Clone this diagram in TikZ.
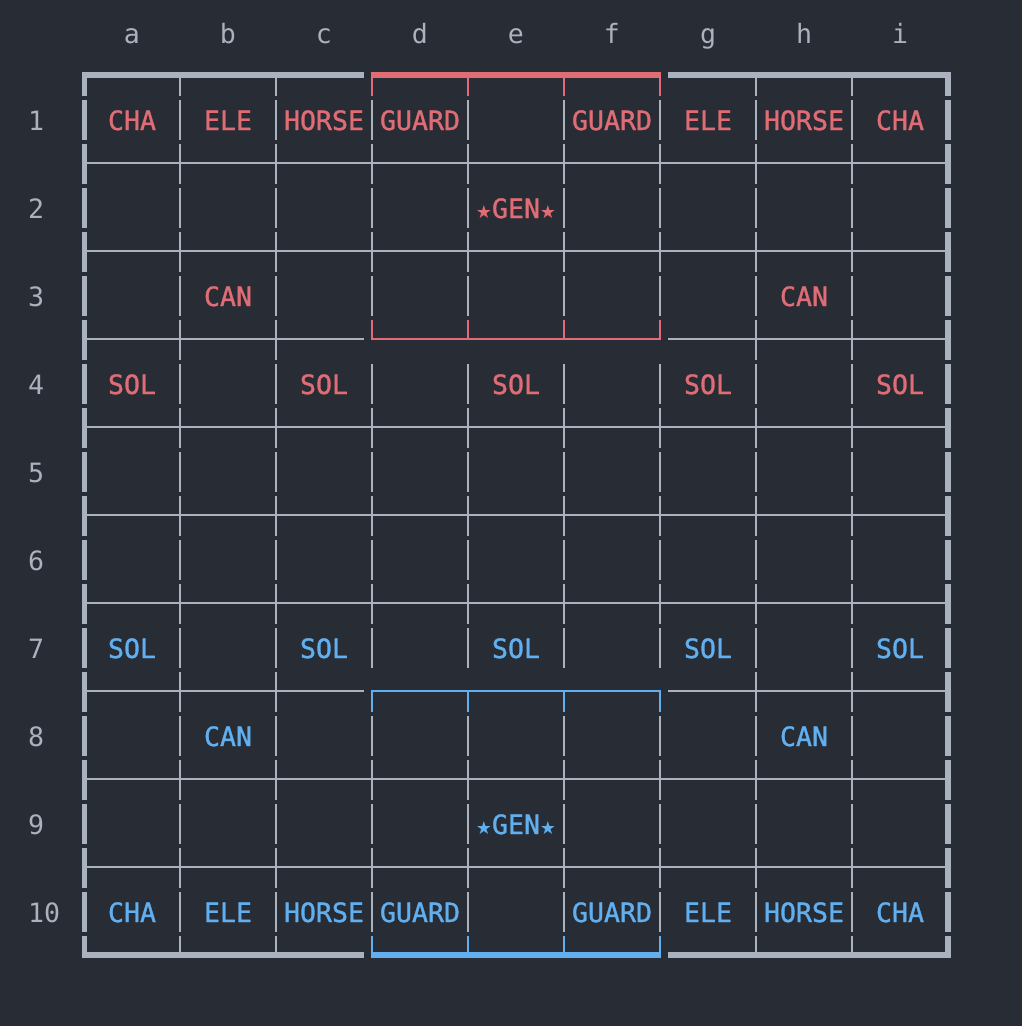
\documentclass[tikz,border=0pt]{standalone}
\usepackage{fontspec}
\newfontfamily\monof{DejaVu Sans Mono}
\newfontfamily\monofb{DejaVu Sans Mono}[FakeBold=1.2]
\newfontfamily\starf{DejaVu Sans}
\definecolor{bg}{HTML}{282C34}
\definecolor{gridc}{HTML}{ABB2BF}
\definecolor{redc}{HTML}{E06C75}
\definecolor{bluec}{HTML}{61AFEF}
\definecolor{labelc}{HTML}{ABB2BF}
\newcommand\stargl{\makebox[16pt]{\starf\fontsize{18}{20}\selectfont ★}}
\newcommand\genlabel{\stargl GEN\stargl}
\begin{document}
\begin{tikzpicture}[x=1pt,y=-1pt,
  thinln/.style={line width=2.6pt, line cap=butt},
  thickln/.style={line width=5.2pt, line cap=butt},
  piece/.style={font=\monofb\fontsize{26.6}{30}\selectfont, anchor=base, inner sep=0pt},
  redp/.style={piece, text=redc},
  bluep/.style={piece, text=bluec},
  lab/.style={font=\monof\fontsize{26.6}{30}\selectfont, text=labelc, inner sep=0pt}]
\fill[bg] (0,0) rectangle (1022,1026);
\useasboundingbox (0,0) rectangle (1022,1026);
% ---- vertical lines (terminal box characters with gaps) ----
% outer thick
\foreach \xx in {84.5,948} {
  \foreach \k in {0,...,20} {
    \pgfmathsetmacro\ya{ifthenelse(\k==0,75,98+44*(\k-1)+2)}
    \pgfmathsetmacro\yb{ifthenelse(\k==20,955,98+44*\k-2)}
    \draw[thickln,gridc] (\xx,\ya) -- (\xx,\yb);
  }
}
% inner, outside palace columns
\foreach \xx in {180,276,756,852} {
  \foreach \k in {0,...,20} {
    \pgfmathsetmacro\ya{ifthenelse(\k==0,75,98+44*(\k-1)+2)}
    \pgfmathsetmacro\yb{ifthenelse(\k==20,955,98+44*\k-2)}
    \draw[thinln,gridc] (\xx,\ya) -- (\xx,\yb);
  }
}
% palace columns
\foreach \xx in {372,468,564,660} {
  \foreach \k in {1,2,3,4,5,7,8,9,10,11,12,13,15,16,17,18,19} {
    \pgfmathsetmacro\ya{98+44*(\k-1)+2}
    \pgfmathsetmacro\yb{98+44*\k-2}
    \draw[thinln,gridc] (\xx,\ya) -- (\xx,\yb);
  }
  \draw[thinln,redc] (\xx,75) -- (\xx,96);
  \draw[thinln,redc] (\xx,320) -- (\xx,339);
  \draw[thinln,bluec] (\xx,691) -- (\xx,712);
  \draw[thinln,bluec] (\xx,936) -- (\xx,955);
}
% ---- horizontal lines ----
\foreach \yy in {163,251,427,515,603,779,867} {
  \draw[thinln,gridc] (84,\yy) -- (948,\yy);
}
\draw[thinln,gridc] (84,339) -- (364,339);
\draw[thinln,gridc] (668,339) -- (948,339);
\draw[thinln,gridc] (84,691) -- (364,691);
\draw[thinln,gridc] (668,691) -- (948,691);
\draw[thinln,redc] (370.7,339) -- (661.3,339);
\draw[thinln,bluec] (370.7,691) -- (661.3,691);
\draw[thickln,gridc] (81.9,75) -- (364,75);
\draw[thickln,gridc] (668,75) -- (950.6,75);
\draw[thickln,redc] (370.7,75) -- (661.3,75);
\draw[thickln,gridc] (81.9,955) -- (364,955);
\draw[thickln,gridc] (668,955) -- (950.6,955);
\draw[thickln,bluec] (370.7,955) -- (661.3,955);
% ---- column labels ----
\foreach \c [count=\n from 0] in {a,b,c,d,e,f,g,h,i} {
  \node[lab,anchor=base] (col-\c) at ({132+96*\n},43) {\c};
}
% ---- row labels ----
\foreach \r in {1,...,10} {
  \node[lab,anchor=base west] (row-\r) at (28,{130+88*(\r-1)}) {\r};
}
% ---- red pieces ----
\node[redp] (r-a1) at (132,130) {CHA};
\node[redp] (r-b1) at (228,130) {ELE};
\node[redp] (r-c1) at (324,130) {HORSE};
\node[redp] (r-d1) at (420,130) {GUARD};
\node[redp] (r-f1) at (612,130) {GUARD};
\node[redp] (r-g1) at (708,130) {ELE};
\node[redp] (r-h1) at (804,130) {HORSE};
\node[redp] (r-i1) at (900,130) {CHA};
\node[redp] (r-e2) at (516,218) {\genlabel};
\node[redp] (r-b3) at (228,306) {CAN};
\node[redp] (r-h3) at (804,306) {CAN};
\node[redp] (r-a4) at (132,394) {SOL};
\node[redp] (r-c4) at (324,394) {SOL};
\node[redp] (r-e4) at (516,394) {SOL};
\node[redp] (r-g4) at (708,394) {SOL};
\node[redp] (r-i4) at (900,394) {SOL};
% ---- blue pieces ----
\node[bluep] (b-a7) at (132,658) {SOL};
\node[bluep] (b-c7) at (324,658) {SOL};
\node[bluep] (b-e7) at (516,658) {SOL};
\node[bluep] (b-g7) at (708,658) {SOL};
\node[bluep] (b-i7) at (900,658) {SOL};
\node[bluep] (b-b8) at (228,746) {CAN};
\node[bluep] (b-h8) at (804,746) {CAN};
\node[bluep] (b-e9) at (516,834) {\genlabel};
\node[bluep] (b-a10) at (132,922) {CHA};
\node[bluep] (b-b10) at (228,922) {ELE};
\node[bluep] (b-c10) at (324,922) {HORSE};
\node[bluep] (b-d10) at (420,922) {GUARD};
\node[bluep] (b-f10) at (612,922) {GUARD};
\node[bluep] (b-g10) at (708,922) {ELE};
\node[bluep] (b-h10) at (804,922) {HORSE};
\node[bluep] (b-i10) at (900,922) {CHA};
\end{tikzpicture}
\end{document}
